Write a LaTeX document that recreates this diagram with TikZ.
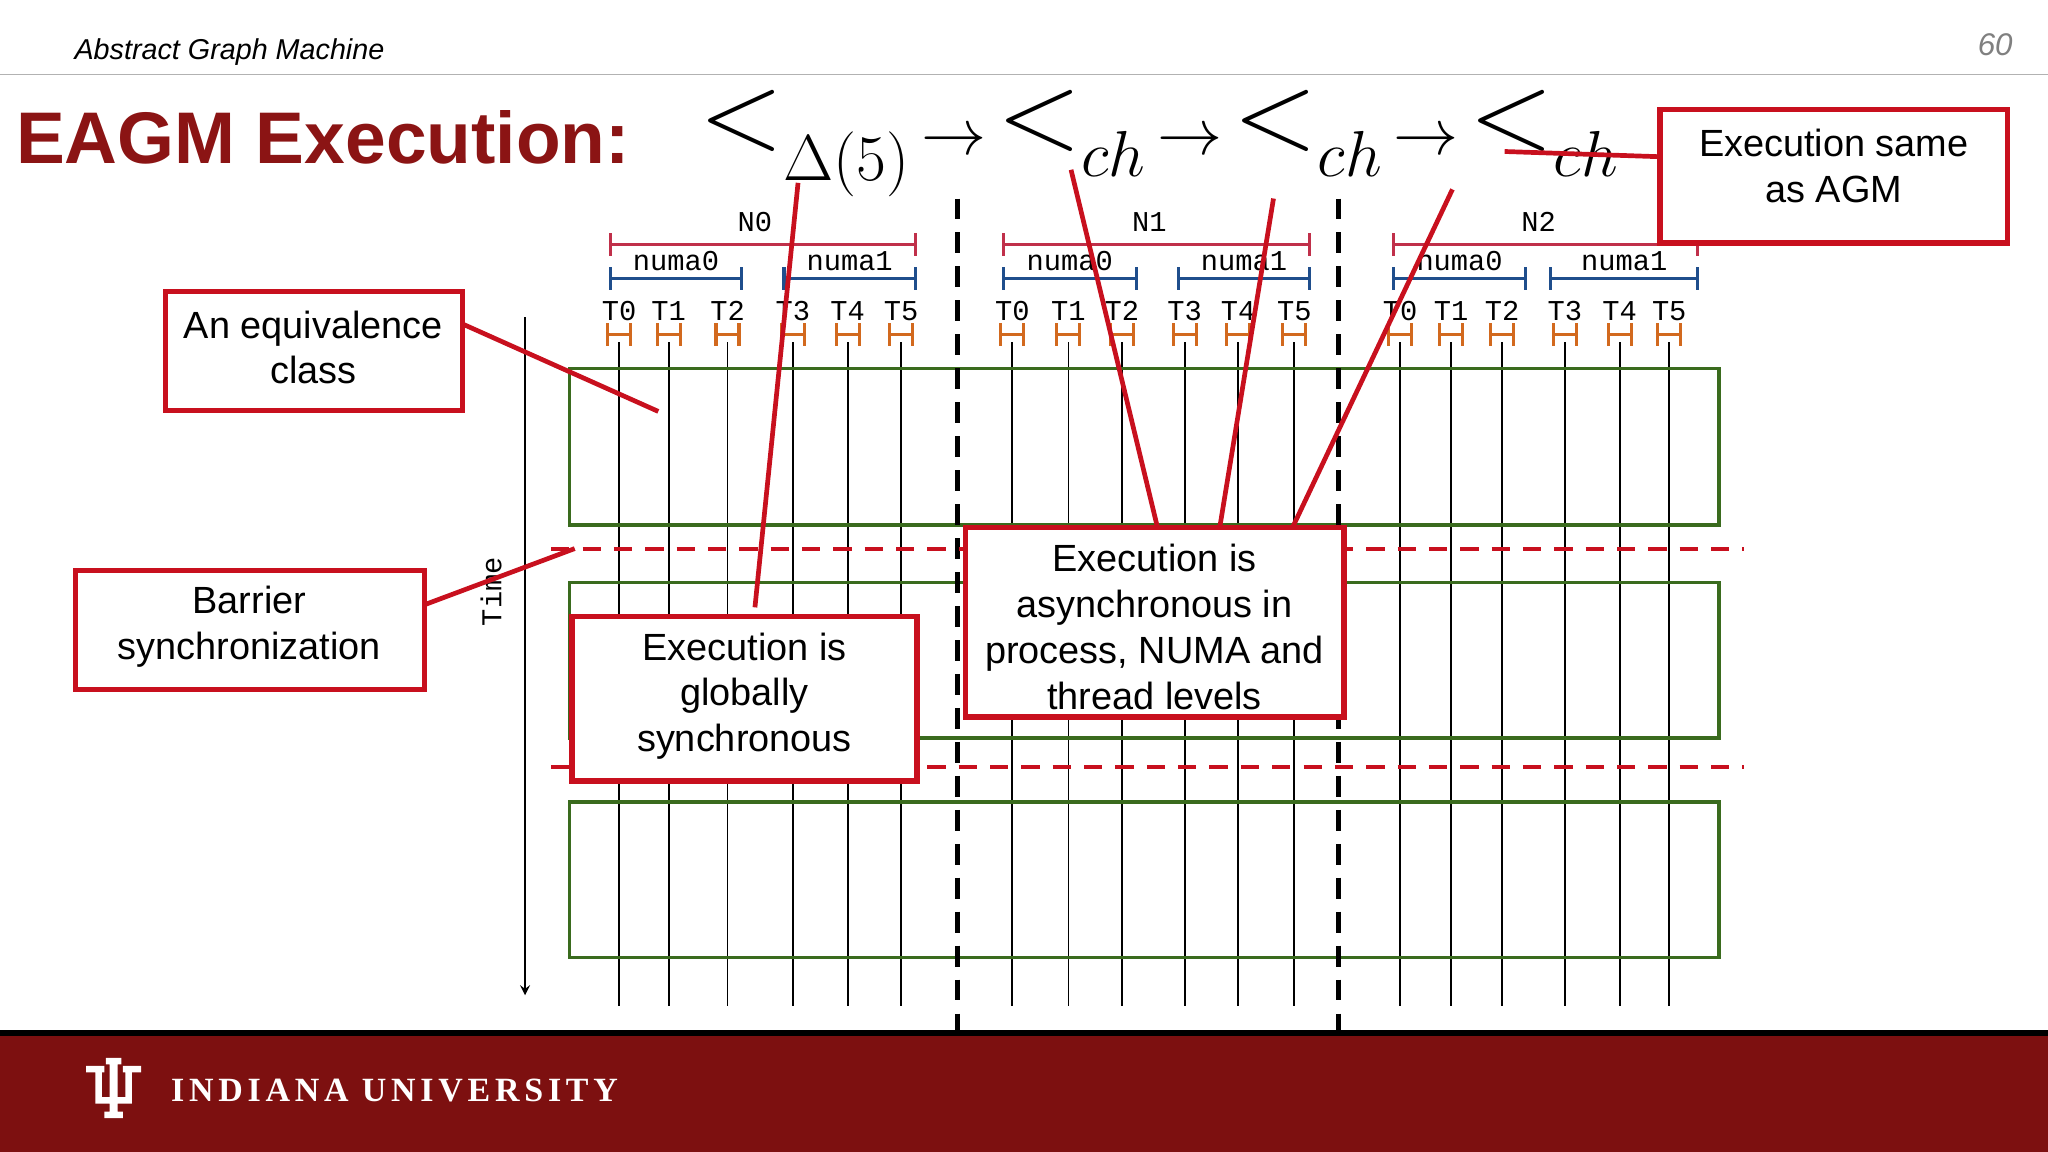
\documentclass[tikz,border=0pt]{standalone}
\usepackage{fontspec}
\setmainfont{Liberation Sans}
\setmonofont{Liberation Mono}
\newfontfamily\serifb[LetterSpace=14]{Liberation Serif}
\usetikzlibrary{calc}
\definecolor{cred}{HTML}{C8101E}
\definecolor{tred}{HTML}{8B1414}
\definecolor{fred}{HTML}{7D1010}
\definecolor{bred}{HTML}{C0304A}
\definecolor{bblue}{HTML}{1F4E8C}
\definecolor{borange}{HTML}{D2691E}
\definecolor{bgreen}{HTML}{3A6B1E}
\newcommand{\bigless}{\raisebox{2pt}{\scalebox{1.7}{$<$}}}
\tikzset{
  cline/.style={draw=cred,line width=1.8pt},
  cbox/.style={draw=cred,line width=2pt,fill=white},
  ctext/.style={align=center,font=\fontsize{14.5}{17.5}\selectfont},
  brk/.style={line width=1.2pt,|-|},
  lbl/.style={font=\ttfamily\fontsize{11}{12}\selectfont,inner sep=0pt},
  eqbox/.style={draw=bgreen,line width=1.3pt},
  thr/.style={line width=0.7pt},
  sep/.style={line width=1.8pt,dash pattern=on 8pt off 5pt},
  bar/.style={draw=cred,line width=1.5pt,dash pattern=on 7pt off 5pt}
}
\begin{document}
\begin{tikzpicture}[x=0.5pt,y=-0.5pt]
\useasboundingbox (0,0) rectangle (1568,882);
% header
\node[anchor=west,font=\itshape\fontsize{11}{13}\selectfont] (hdr) at (50,40) {Abstract Graph Machine};
\node[anchor=east,font=\itshape\fontsize{12}{14}\selectfont,text=gray] (pg) at (1548,34) {60};
\draw[gray!60,line width=0.6pt] (0,57) -- (1568,57);
\node[anchor=west,font=\bfseries\fontsize{28}{32}\selectfont,text=tred,inner sep=0pt] (title) at (12,105) {EAGM Execution:};
% formula
\node[anchor=west,inner sep=0pt,font=\fontsize{24}{28}\selectfont] (form) at (535,110)
 {\bigless$_{\textstyle\Delta(5)}\,{\rightarrow}\,$\bigless$_{\textstyle ch}\,{\rightarrow}\,$\bigless$_{\textstyle ch}\,{\rightarrow}\,$\bigless$_{\textstyle ch}$};
% node groups
\foreach \g/\a/\b/\c/\d/\e/\f/\n/\nx/\ma/\mb/\mc/\md in {
  0/474/512/557/607/649/690/N0/578/466/569/599/702,
  1/775/818/859/907/948/991/N1/880/767/871/901/1004,
  2/1072/1111/1150/1198/1240/1278/N2/1178/1066/1169/1186/1301}{
  \node[lbl] (n\g) at (\nx,170) {\n};
  \draw[brk,draw=bred] (\ma,187) -- (\md,187);
  \draw[brk,draw=bblue] (\ma,213) -- (\mb,213);
  \draw[brk,draw=bblue] (\mc,213) -- (\md,213);
  \node[lbl] (na\g) at ({(\ma+\mb)/2},200) {numa0};
  \node[lbl] (nb\g) at ({(\mc+\md)/2},200) {numa1};
  \foreach \x [count=\i from 0] in {\a,\b,\c,\d,\e,\f}{
    \node[lbl] (t\g\i) at (\x,238) {T\i};
    \draw[brk,draw=borange] (\x-10,256) -- (\x+10,256);
    \draw[thr] (\x,262) -- (\x,770);
  }
}
% equivalence boxes
\draw[eqbox] (436,282) rectangle (1316,402);
\coordinate (eq1) at (504,315);
\draw[eqbox] (436,446) rectangle (1316,565);
\draw[eqbox] (436,614) rectangle (1316,733);
% separators
\draw[sep] (733,152) -- (733,790);
\draw[sep] (1025,152) -- (1025,790);
% barriers
\coordinate (b1s) at (422,420); \coordinate (b1e) at (1335,420);
\draw[bar] (b1s) -- (b1e);
\draw[bar] (422,587) -- (1335,587);
% time
\draw[-stealth,line width=0.7pt] (402,243) -- (402,762);
\node[lbl,rotate=90] (time) at (376,453) {Time};
% callouts
\coordinate (agmL) at (1271,120);
\coordinate (fe) at (1152,116);
\draw[cline] (agmL) -- (fe);
\draw[cbox] (1271,84) rectangle (1537,186);
\node[ctext] (agmt) at (1404,127) {Execution same\\as AGM};

\coordinate (eqR) at (354,248);
\draw[cline] (eqR) -- (eq1);
\draw[cbox] (127,223) rectangle (354,314);
\node[ctext] (eqt) at (240,266) {An equivalence\\class};

\coordinate (bsR) at (325,463);
\draw[cline] (bsR) -- (440,420);
\draw[cbox] (58,437) rectangle (325,528);
\node[ctext] (bst) at (191,480) {Barrier\\synchronization};

\coordinate (gsT) at (578,465);
\draw[cline] (gsT) -- (611,140);
\draw[cbox] (438,472) rectangle (702,598);
\node[ctext] (gst) at (570,533) {Execution is\\globally\\synchronous};

\draw[cline] (886,403) -- (820,130);
\draw[cline] (934,403) -- (975,152);
\draw[cline] (990,403) -- (1112,145);
\draw[cbox] (739,404) rectangle (1029,549);
\node[ctext] (ast) at (884,480) {Execution is\\asynchronous in\\process, NUMA and\\thread levels};
% footer
\fill[fred] (0,792) rectangle (1568,882);
\draw[black,line width=2.5pt] (0,791) -- (1568,791);
\fill[white] (66,816) rectangle (80,821) (73,816) rectangle (78,843)
  (94,816) rectangle (108,821) (96,816) rectangle (101,843)
  (81,810) rectangle (93,815) (84,810) rectangle (90,852) (80,851) rectangle (94,856)
  (73,840) rectangle (101,845);
\node[anchor=west,text=white,font=\serifb\bfseries\fontsize{13}{15}\selectfont] (iu) at (124,835) {INDIANA UNIVERSITY};
\end{tikzpicture}
\end{document}
